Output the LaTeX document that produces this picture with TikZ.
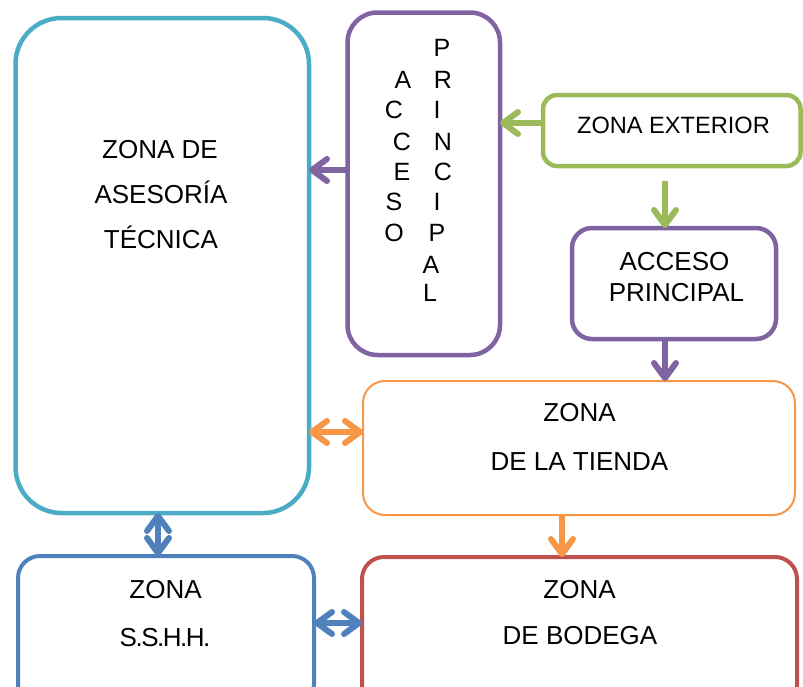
\documentclass[tikz,border=0pt]{standalone}
\usepackage{fontspec}
\setmainfont{Liberation Sans}
\usetikzlibrary{arrows.meta}
\definecolor{cteal}{HTML}{4BACC6}
\definecolor{cpurple}{HTML}{8064A2}
\definecolor{cgreen}{HTML}{9BBB59}
\definecolor{corange}{HTML}{F79646}
\definecolor{cblue}{HTML}{4F81BD}
\definecolor{cred}{HTML}{C0504D}
\begin{document}
\begin{tikzpicture}[x=1pt,y=-1pt,
  zbox/.style={draw, rounded corners=#1, inner sep=0pt, outer sep=0pt},
  lbl/.style={font=\fontsize{26}{30}\selectfont, inner sep=0pt, anchor=base},
  vlbl/.style={font=\fontsize{25}{30}\selectfont, inner sep=0pt, anchor=base},
  slbl/.style={font=\fontsize{23.6}{28}\selectfont, inner sep=0pt, anchor=base},
  arr/.style={line width=6pt, -{Straight Barb[length=15pt,width=22pt,round]}},
  darr/.style={line width=6pt, {Straight Barb[length=15pt,width=22pt,round]}-{Straight Barb[length=15pt,width=22pt,round]}}]
\useasboundingbox (0,0) rectangle (803,686);
\clip (0,0) rectangle (803,686);

% boxes
\node[zbox=46pt, cteal, line width=4.5pt, minimum width=293.5pt, minimum height=495pt] (teal) at (162.25,265.5) {};
\node[zbox=30pt, cpurple, line width=4.5pt, minimum width=152.5pt, minimum height=342.5pt] (acc1) at (423.75,183.75) {};
\node[zbox=14pt, cgreen, line width=4.5pt, minimum width=257.5pt, minimum height=71pt] (ext) at (671.75,130.5) {};
\node[zbox=20pt, cpurple, line width=4.5pt, minimum width=204pt, minimum height=111pt] (acc2) at (674,283.5) {};
\node[zbox=22pt, corange, line width=2pt, minimum width=432pt, minimum height=134pt] (tienda) at (579,448) {};
\node[zbox=22pt, cblue, line width=4pt, minimum width=296pt, minimum height=150pt] (sshh) at (166,631) {};
\node[zbox=22pt, cred, line width=4pt, minimum width=435pt, minimum height=150pt] (bodega) at (579.5,632) {};

% texts
\node[lbl] (t1) at (160,158.5) {ZONA DE};
\node[lbl] (t2) at (161,203.5) {ASESORÍA};
\node[lbl] (t3) at (161,248.5) {TÉCNICA};
\node[slbl] (t4) at (673.5,133.5) {ZONA EXTERIOR};
\node[lbl] (t5) at (674.5,270.5) {ACCESO};
\node[lbl] (t6) at (676.5,301.5) {PRINCIPAL};
\node[lbl] (t7) at (579.5,421.5) {ZONA};
\node[lbl] (t8) at (579.5,470.5) {DE LA TIENDA};
\node[lbl] (t9) at (165.5,598.5) {ZONA};
\node[lbl] (t10) at (165,646.5) {S\kern-1.5pt.\kern-1.5pt S\kern-1.5pt.\kern-1.5pt H\kern-1.5pt.\kern-1.5pt H\kern-1.5pt.};
\node[lbl] (t11) at (579.5,598.5) {ZONA};
\node[lbl] (t12) at (580,644.5) {DE BODEGA};

% vertical letters
\foreach \ch/\xx/\yy [count=\i] in {A/403/80,C/394/110,C/402/142,E/402/172,S/394/202,O/394/233}
  \node[vlbl] (va\i) at (\xx,\yy+8.5) {\ch};
\foreach \ch/\xx/\yy [count=\i] in {P/442/48,R/443/80,I/437/110,N/443/142,C/443/172,I/437/202,P/437/233,A/431/265,L/430/293}
  \node[vlbl] (vb\i) at (\xx,\yy+8.5) {\ch};

% helper coordinates
\coordinate (h170) at (0,170);
\coordinate (h123) at (0,123);
\coordinate (v665) at (665,0);
\coordinate (h432) at (0,432);
\coordinate (v158) at (158,0);
\coordinate (h623) at (0,623);
\coordinate (v562) at (562,0);

% connectors
\draw[arr, cpurple] (acc1.west |- h170) -- (teal.east |- h170);
\draw[arr, cgreen] (ext.west |- h123) -- (acc1.east |- h123);
\draw[arr, cgreen, shorten <=15pt] (v665 |- ext.south) -- (v665 |- acc2.north);
\draw[arr, cpurple] (v665 |- acc2.south) -- (v665 |- tienda.north);
\draw[darr, corange] (teal.east |- h432) -- (tienda.west |- h432);
\draw[darr, cblue] (v158 |- teal.south) -- (v158 |- sshh.north);
\draw[darr, cblue] (sshh.east |- h623) -- (bodega.west |- h623);
\draw[arr, corange] (v562 |- tienda.south) -- (v562 |- bodega.north);
\end{tikzpicture}
\end{document}
